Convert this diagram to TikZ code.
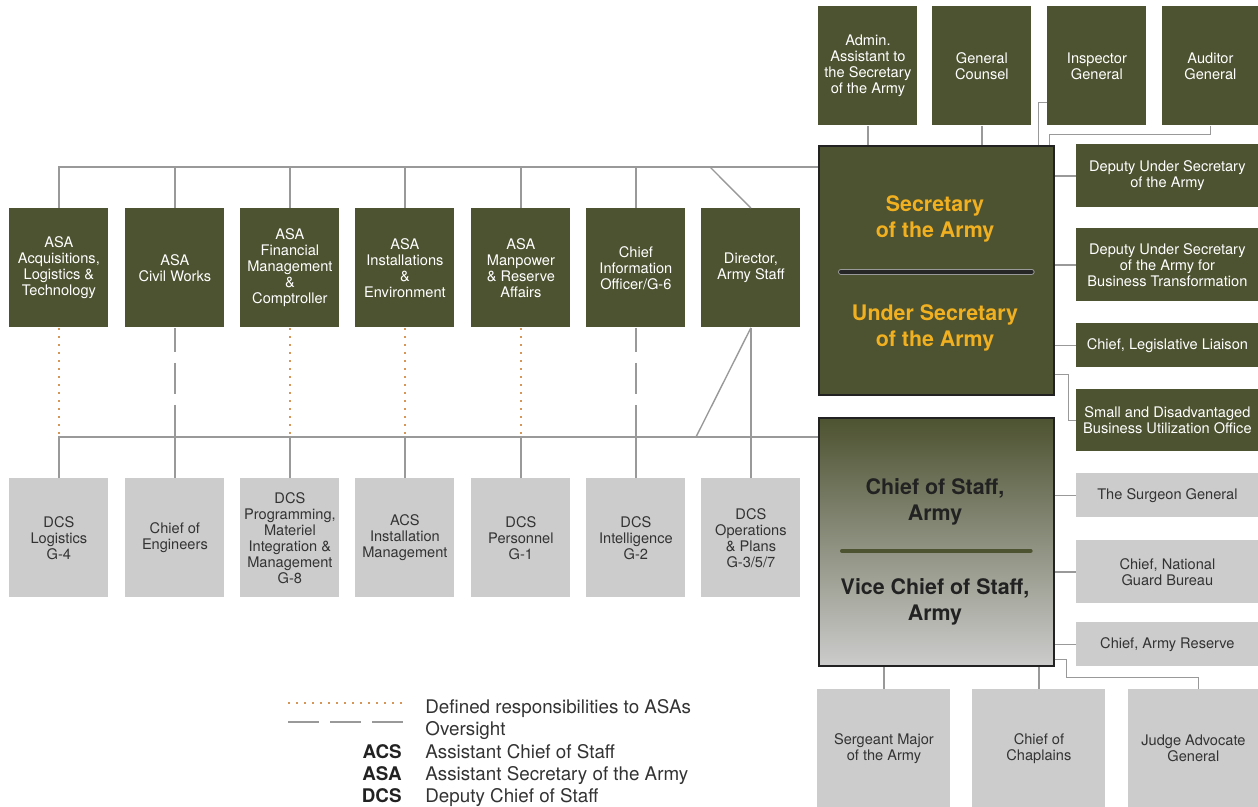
\documentclass[tikz,border=0pt]{standalone}
\usepackage{fontspec}
\setmainfont{TeX Gyre Heros}
\usetikzlibrary{positioning}

\definecolor{armyolive}{RGB}{77,82,48}
\definecolor{boxgrey}{RGB}{204,204,204}
\definecolor{linkgrey}{RGB}{153,153,153}
\definecolor{armygold}{RGB}{240,176,32}
\definecolor{asaorange}{RGB}{214,150,88}
\definecolor{greytext}{RGB}{51,51,51}
\definecolor{framedark}{RGB}{34,34,34}

\newcommand{\boxfont}{\fontsize{7.3}{8}\selectfont}
\newcommand{\headfont}{\fontsize{10.7}{13}\selectfont\bfseries}
\newcommand{\keyfont}{\fontsize{9.4}{11}\selectfont}

\tikzset{
  armybox/.style={fill=armyolive, text=white, font=\boxfont, align=center,
    inner sep=0pt, anchor=north west},
  greybox/.style={fill=boxgrey, text=greytext, font=\boxfont, align=center,
    inner sep=0pt, anchor=north west},
  colbox/.style={minimum width=49.5pt, minimum height=59.5pt},
  sidebox/.style={minimum width=91pt, minimum height=#1},
  link/.style={draw=linkgrey, line width=0.7pt},
  asaline/.style={draw=asaorange, line width=0.8pt, dash pattern=on 1pt off 3pt},
  oversight/.style={draw=linkgrey, line width=0.7pt, dash pattern=on 15.5pt off 5.5pt},
  keytext/.style={font=\keyfont, text=greytext, inner sep=0pt, anchor=base west},
  keyabbr/.style={font=\keyfont\bfseries, text=framedark, inner sep=0pt, anchor=base east},
}

\begin{document}
\begin{tikzpicture}[x=0.5pt, y=-0.5pt]
\useasboundingbox (0,0) rectangle (1258,807);

% secretariat
\node[armybox, colbox] (aasa) at (818,6) {Admin.\\Assistant to\\the Secretary\\of the Army};
\node[armybox, colbox] (gc) at (932,6) {General\\Counsel};
\node[armybox, colbox] (ig) at (1047,6) {Inspector\\General};
\node[armybox, colbox, minimum width=48pt] (ag) at (1162,6) {Auditor\\General};
\node[armybox, draw=framedark, line width=0.8pt, minimum width=117.5pt,
  minimum height=124.5pt] (sec) at (818,145) {};
\node[draw=framedark, line width=0.8pt, top color=armyolive, bottom color=boxgrey,
  anchor=north west, inner sep=0pt, minimum width=117.5pt,
  minimum height=124pt] (cos) at (818,417) {};

\node[font=\headfont, text=armygold, align=center] (sectitle) at (935,219) {Secretary\\of the Army};
\node[font=\headfont, text=armygold, align=center] (usatitle) at (935,328) {Under Secretary\\of the Army};
\node[font=\headfont, text=framedark, align=center] (costitle) at (935,502) {Chief of Staff,\\Army};
\node[font=\headfont, text=framedark, align=center] (vcstitle) at (935,602) {Vice Chief of Staff,\\Army};
\draw[line width=3pt, line cap=round, draw=linkgrey] ([xshift=11.5pt,yshift=-0.75pt]sec.west) -- ([xshift=-11.5pt,yshift=-0.75pt]sec.east);
\draw[line width=2pt, line cap=round, draw=black!85] ([xshift=11.5pt,yshift=-0.75pt]sec.west) -- ([xshift=-11.5pt,yshift=-0.75pt]sec.east);
\draw[line width=2pt, line cap=round, draw=armyolive] ([xshift=12pt,yshift=-4.5pt]cos.west) -- ([xshift=-12pt,yshift=-4.5pt]cos.east);

% offices on the right
\node[armybox, sidebox=31.5pt] (dus) at (1076,144) {Deputy Under Secretary\\of the Army};
\node[armybox, sidebox=36.5pt] (dusbt) at (1076,228) {Deputy Under Secretary\\of the Army for\\Business Transformation};
\node[armybox, sidebox=22pt] (cll) at (1076,323) {Chief, Legislative Liaison};
\node[armybox, sidebox=31pt] (sdbu) at (1076,389) {Small and Disadvantaged\\Business Utilization Office};
\node[greybox, sidebox=22pt] (tsg) at (1076,473) {The Surgeon General};
\node[greybox, sidebox=31.5pt] (cngb) at (1076,540) {Chief, National\\Guard Bureau};
\node[greybox, sidebox=22pt] (car) at (1076,622) {Chief, Army Reserve};
\node[greybox, minimum width=66.5pt, minimum height=59pt] (sma) at (817,689) {Sergeant Major\\of the Army};
\node[greybox, minimum width=66.5pt, minimum height=59pt] (coc) at (972,689) {Chief of\\Chaplains};
\node[greybox, minimum width=65pt, minimum height=59pt] (jag) at (1128,689) {Judge Advocate\\General};

% assistant secretaries
\node[armybox, colbox] (alt) at (9,208) {ASA\\Acquisitions,\\Logistics \&\\Technology};
\node[armybox, colbox] (acw) at (125,208) {ASA\\Civil Works};
\node[armybox, colbox] (afm) at (240,208) {ASA\\Financial\\Management\\\&\\Comptroller};
\node[armybox, colbox] (aie) at (355,208) {ASA\\Installations\\\&\\Environment};
\node[armybox, colbox] (amr) at (471,208) {ASA\\Manpower\\\& Reserve\\Affairs};
\node[armybox, colbox] (cio) at (586,208) {Chief\\Information\\Officer/G-6};
\node[armybox, colbox] (das) at (701,208) {Director,\\Army Staff};

% army staff
\node[greybox, colbox] (g4) at (9,478) {DCS\\Logistics\\G-4};
\node[greybox, colbox] (coe) at (125,478) {Chief of\\Engineers};
\node[greybox, colbox] (g8) at (240,478) {DCS\\Programming,\\Materiel\\Integration \&\\Management\\G-8};
\node[greybox, colbox] (acsim) at (355,478) {ACS\\Installation\\Management};
\node[greybox, colbox] (g1) at (471,478) {DCS\\Personnel\\G-1};
\node[greybox, colbox] (g2) at (586,478) {DCS\\Intelligence\\G-2};
\node[greybox, colbox] (g357) at (701,478) {DCS\\Operations\\\& Plans\\G-3/5/7};

\coordinate (topbus) at (0,167);
\coordinate (lowbus) at (0,437);
\coordinate (dasfork) at (710,167);
\coordinate (dasslant) at (696,437);

% bus lines
\draw[link] (alt.north) |- (sec.west |- topbus);
\foreach \n in {acw,afm,aie,amr,cio} \draw[link] (\n.north) -- (\n.north |- topbus);
\draw[link] (das.north) -- (dasfork);
\draw[link] (g4.north) |- (cos.west |- lowbus);
\foreach \n in {coe,g8,acsim,g1,g2} \draw[link] (\n.north) -- (\n.north |- lowbus);
\draw[link] (das.south) -- (g357.north);
\draw[link] (das.south) -- (dasslant);
\foreach \n in {alt,afm,aie,amr} \draw[asaline] (\n.south) -- (\n.south |- lowbus);
\foreach \n in {acw,cio} \draw[oversight, dash phase=3.5pt] (\n.south) -- (\n.south |- lowbus);

% secretariat links
\draw[link] (aasa.south) -- (aasa.south |- sec.north);
\draw[link] (gc.south) -- (gc.south |- sec.north);
\draw[link] ([yshift=11.5pt]ig.south west) -| ([xshift=-8pt]sec.north east);
\draw[link] (ag.south) -- ++(0,9) -| ([xshift=-2.5pt]sec.north east);
\foreach \n in {dus,dusbt,cll} \draw[link] (\n.west) -- (\n.west -| sec.east);
\draw[link] ([yshift=10.5pt]sec.south east) -- ++(14,0) |- (sdbu.west);
\foreach \n in {tsg,cngb,car} \draw[link] (\n.west) -- (\n.west -| cos.east);
\draw[link] ([yshift=3.5pt]cos.south east) -- ++(12,0) -- ++(0,18) -| ([xshift=2.5pt]jag.north);
\draw[link] (sma.north) -- (sma.north |- cos.south);
\draw[link] (coc.north) -- (coc.north |- cos.south);

% key
\coordinate (keydotA) at (288,703);
\coordinate (keydotB) at (407,703);
\coordinate (keydashA) at (288,722);
\coordinate (keydashB) at (407,722);
\draw[asaline] (keydotA) -- (keydotB);
\draw[oversight] (keydashA) -- (keydashB);
\node[keytext] (keyasa) at (425,713) {Defined responsibilities to ASAs};
\node[keytext] (keyover) at (425,735) {Oversight};
\node[keytext] (keyacs) at (425,758) {Assistant Chief of Staff};
\node[keytext] (keyasa2) at (425,780) {Assistant Secretary of the Army};
\node[keytext] (keydcs) at (425,802) {Deputy Chief of Staff};
\node[keyabbr] (abacs) at (402,758) {ACS};
\node[keyabbr] (abasa) at (402,780) {ASA};
\node[keyabbr] (abdcs) at (402,802) {DCS};
\end{tikzpicture}
\end{document}
